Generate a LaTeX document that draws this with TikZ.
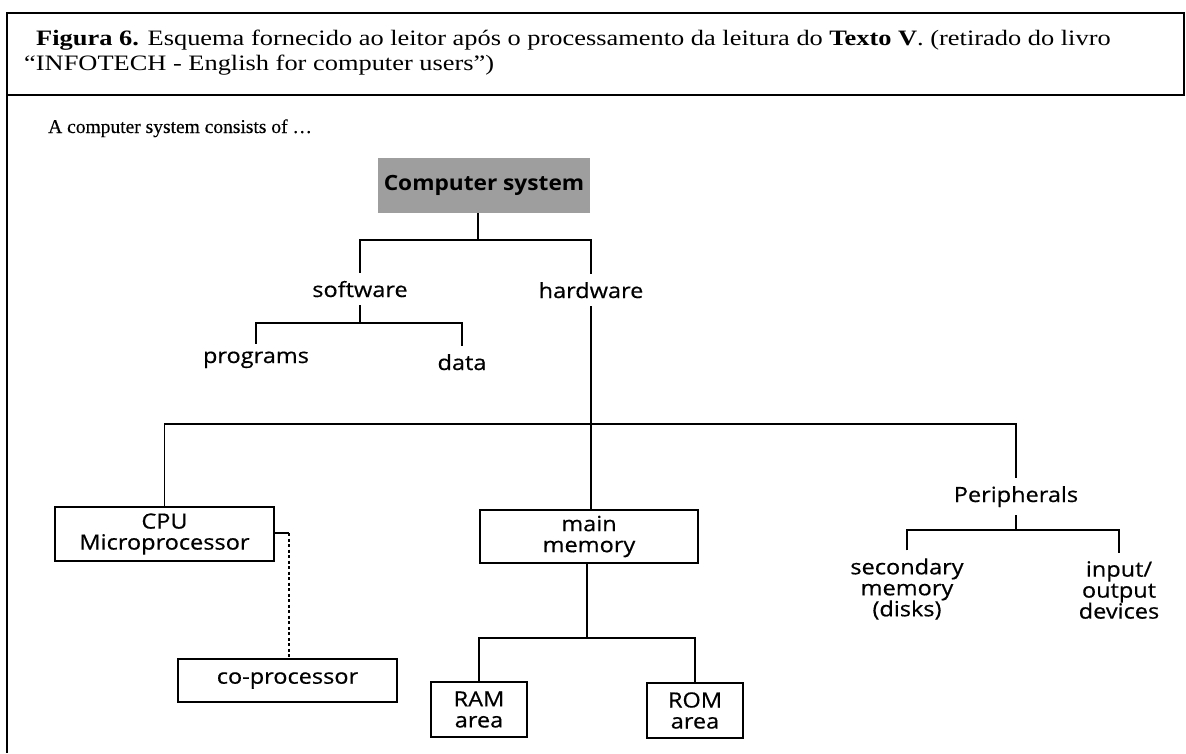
\documentclass[tikz,border=0pt]{standalone}
\usepackage{fontspec}
\setmainfont{Liberation Serif}[FakeStretch=1.2]
\newfontfamily\bookfont{Liberation Serif}[FakeBold=0.4]
\newfontfamily\dsf{Open Sans}[FakeStretch=1.12, FakeBold=0.5]
\newfontfamily\dsfb{Open Sans}[FakeStretch=1.08]
\begin{document}
\begin{tikzpicture}[x=1pt,y=-1pt,
  wire/.style={line width=1.9pt},
  frame/.style={line width=1.8pt},
  lbl/.style={font=\dsf\fontsize{21}{21}\selectfont, align=center, inner sep=0pt, outer ysep=8pt},
  boxlbl/.style={draw, line width=1.9pt, font=\dsf\fontsize{21}{21}\selectfont, align=center, inner sep=0pt},
  capt/.style={font=\fontsize{22}{25}\selectfont, anchor=base west, inner sep=0pt}
]
\useasboundingbox (0,0) rectangle (1186,753);
% frame
\draw[frame] (7,13) -- (1184,13);
\draw[frame] (7,95) -- (1184,95);
\draw[frame] (7,12) -- (7,753);
\draw[frame] (1184,12) -- (1184,96);
% caption
\node[capt] (c1) at (36,45) {\textbf{Figura 6.} Esquema fornecido ao leitor após o processamento da leitura do \textbf{Texto V}. (retirado do livro};
\node[capt] (c2) at (24,70) {“INFOTECH - English for computer users”)};
\node[capt, font=\bookfont\fontsize{19.5}{22}\selectfont] (intro) at (48,133) {A computer system consists of \dots};
% nodes
\node[fill=black!38, minimum width=212pt, minimum height=55pt, inner sep=0pt,
      font=\dsfb\bfseries\fontsize{21}{21}\selectfont] (cs) at (484,185.5) {Computer system};
\node[lbl, anchor=base] (sw) at (360,297) {software};
\node[lbl, anchor=base] (hw) at (591,298) {hardware};
\node[lbl, anchor=base] (prog) at (256,363) {programs};
\node[lbl, anchor=base] (data) at (462,370) {data};
\node[boxlbl, minimum width=219pt, minimum height=54pt] (cpu) at (164.5,534) {CPU\\Microprocessor};
\node[boxlbl, minimum width=219pt, minimum height=43pt] (cop) at (287.5,680.5) {co-processor};
\node[boxlbl, minimum width=218pt, minimum height=53pt] (mm) at (589,536.5) {main\\memory};
\node[boxlbl, minimum width=96pt, minimum height=55pt] (ram) at (479,709.5) {RAM\\area};
\node[boxlbl, minimum width=96pt, minimum height=55pt] (rom) at (695,710.5) {ROM\\area};
\node[lbl, anchor=base] (per) at (1016,502) {Peripherals};
\node[lbl] (sec) at (907,589) {secondary\\memory\\(disks)};
\node[lbl] (io) at (1119,590) {input/\\output\\devices};
% connectors
\coordinate (j1) at (478,240);
\draw[wire] (cs.south -| j1) -- (j1);
\draw[wire] (sw.north) |- (j1) -| (hw.north);
\coordinate (j2) at (360,323);
\draw[wire] (sw.south) -- (j2);
\draw[wire] (prog.north) |- (j2) -| (data.north);
\coordinate (j3) at (591,424);
\draw[wire] (hw.south) -- (hw.south |- mm.north);
\draw[wire] (cpu.north) |- (j3) -| (per.north);
\coordinate (j4) at (1016,530);
\draw[wire] (per.south) -- (j4);
\draw[wire] (sec.north) |- (j4) -| (io.north);
\coordinate (j5) at (587,638);
\draw[wire] (mm.south -| j5) -- (j5);
\draw[wire] (ram.north) |- (j5) -| (rom.north);
\coordinate (k) at (289,533);
\draw[wire] (cpu.east |- k) -- (k);
\draw[wire, dash pattern=on 3pt off 2.5pt] (k) -- (cop.north -| k);
\end{tikzpicture}
\end{document}
